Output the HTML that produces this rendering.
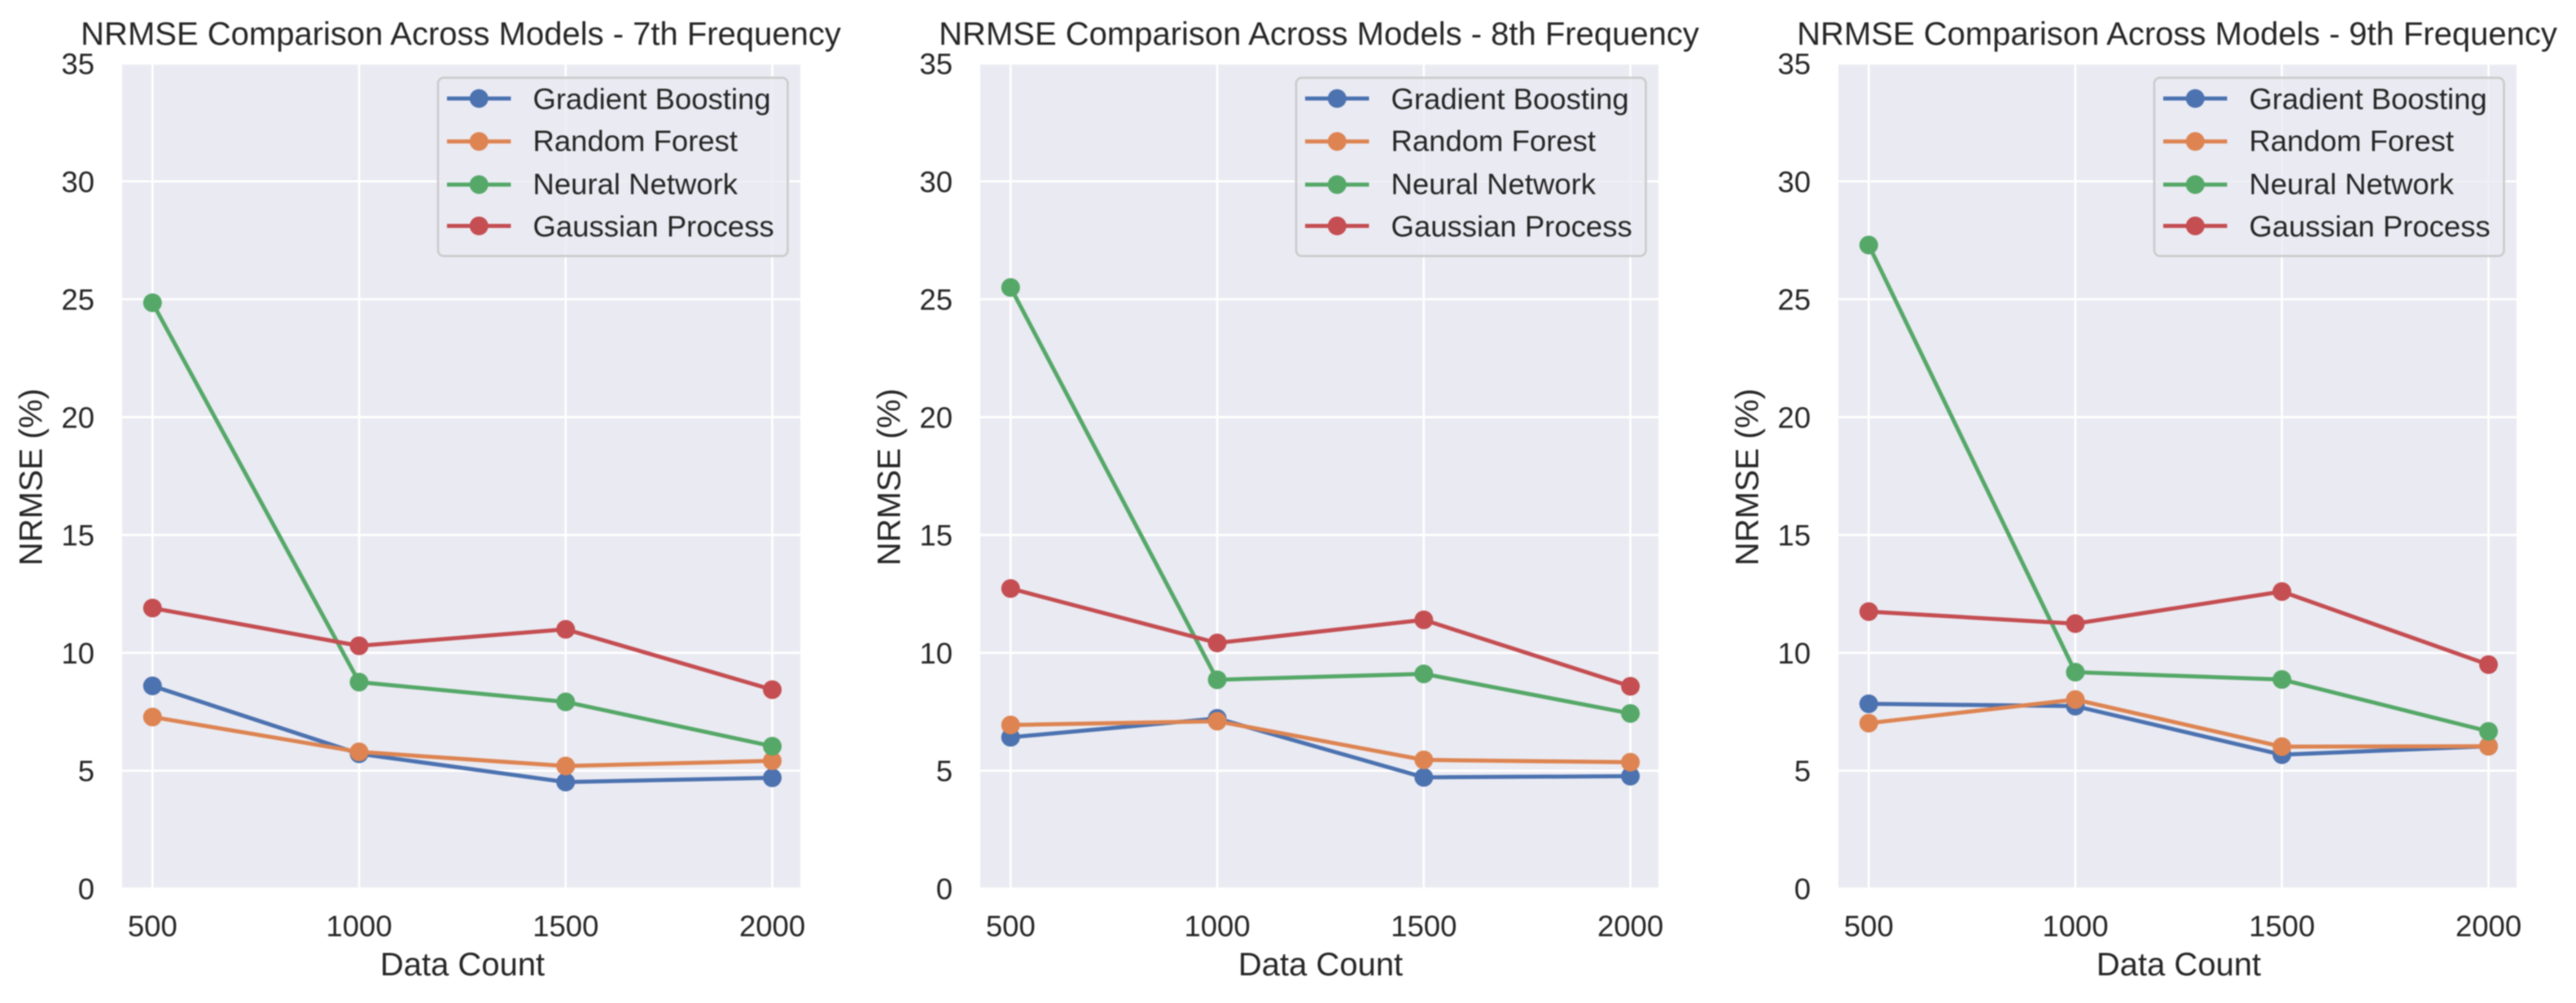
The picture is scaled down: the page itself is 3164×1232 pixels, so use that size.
<!DOCTYPE html>
<html lang="en">
<head>
<meta charset="utf-8">
<title>NRMSE Comparison Across Models</title>
<style>
html,body{margin:0;padding:0;background:#fff;width:3164px;height:1232px;overflow:hidden}
svg{display:block;filter:blur(0.7px)}
text{font-family:"Liberation Sans",Arial,sans-serif;fill:#262626}
.title,.axis-label{font-size:40px}
.tick,.legend-text{font-size:36.5px}
.legend-frame{fill:#EAEAF2;fill-opacity:.8;stroke:#cccccc;stroke-width:2.7}
.handle{stroke-width:5;fill:none}
</style>
</head>
<body>
<svg xmlns="http://www.w3.org/2000/svg" width="3164" height="1232" viewBox="0 0 3164 1232">
  <rect width="3164" height="1232" fill="#fff"/>

  <g id="panel-7" transform="translate(150,0)">
    <rect x="0" y="78" width="833" height="1013.5" fill="#EAEAF2"/>
    <g class="grid"></g>
    <g class="marks"></g>
    <g class="ticks"></g>
    <text class="title" x="416" y="55" text-anchor="middle">NRMSE Comparison Across Models - 7th Frequency</text>
    <text class="axis-label" x="418" y="1198" text-anchor="middle">Data Count</text>
    <text class="axis-label" transform="translate(-98.5,586) rotate(-90)" text-anchor="middle">NRMSE (%)</text>
    <g>
      <rect class="legend-frame" x="388" y="95.5" width="429.5" height="219" rx="7"/>
      <g><line class="handle" x1="399" x2="477.5" y1="121" y2="121" stroke="#4C72B0"/><circle cx="438.3" cy="121" r="11.5" fill="#4C72B0"/><text class="legend-text" x="504.5" y="134">Gradient Boosting</text></g>
      <g><line class="handle" x1="399" x2="477.5" y1="173.7" y2="173.7" stroke="#DD8452"/><circle cx="438.3" cy="173.7" r="11.5" fill="#DD8452"/><text class="legend-text" x="504.5" y="185.5">Random Forest</text></g>
      <g><line class="handle" x1="399" x2="477.5" y1="226.7" y2="226.7" stroke="#55A868"/><circle cx="438.3" cy="226.7" r="11.5" fill="#55A868"/><text class="legend-text" x="504.5" y="238.5">Neural Network</text></g>
      <g><line class="handle" x1="399" x2="477.5" y1="277.5" y2="277.5" stroke="#C44E52"/><circle cx="438.3" cy="277.5" r="11.5" fill="#C44E52"/><text class="legend-text" x="504.5" y="290.5">Gaussian Process</text></g>
    </g>
  </g>

  <g id="panel-8" transform="translate(1204,0)">
    <rect x="0" y="78" width="833" height="1013.5" fill="#EAEAF2"/>
    <g class="grid"></g>
    <g class="marks"></g>
    <g class="ticks"></g>
    <text class="title" x="416" y="55" text-anchor="middle">NRMSE Comparison Across Models - 8th Frequency</text>
    <text class="axis-label" x="418" y="1198" text-anchor="middle">Data Count</text>
    <text class="axis-label" transform="translate(-98.5,586) rotate(-90)" text-anchor="middle">NRMSE (%)</text>
    <g>
      <rect class="legend-frame" x="388" y="95.5" width="429.5" height="219" rx="7"/>
      <g><line class="handle" x1="399" x2="477.5" y1="121" y2="121" stroke="#4C72B0"/><circle cx="438.3" cy="121" r="11.5" fill="#4C72B0"/><text class="legend-text" x="504.5" y="134">Gradient Boosting</text></g>
      <g><line class="handle" x1="399" x2="477.5" y1="173.7" y2="173.7" stroke="#DD8452"/><circle cx="438.3" cy="173.7" r="11.5" fill="#DD8452"/><text class="legend-text" x="504.5" y="185.5">Random Forest</text></g>
      <g><line class="handle" x1="399" x2="477.5" y1="226.7" y2="226.7" stroke="#55A868"/><circle cx="438.3" cy="226.7" r="11.5" fill="#55A868"/><text class="legend-text" x="504.5" y="238.5">Neural Network</text></g>
      <g><line class="handle" x1="399" x2="477.5" y1="277.5" y2="277.5" stroke="#C44E52"/><circle cx="438.3" cy="277.5" r="11.5" fill="#C44E52"/><text class="legend-text" x="504.5" y="290.5">Gaussian Process</text></g>
    </g>
  </g>

  <g id="panel-9" transform="translate(2258,0)">
    <rect x="0" y="78" width="833" height="1013.5" fill="#EAEAF2"/>
    <g class="grid"></g>
    <g class="marks"></g>
    <g class="ticks"></g>
    <text class="title" x="416" y="55" text-anchor="middle">NRMSE Comparison Across Models - 9th Frequency</text>
    <text class="axis-label" x="418" y="1198" text-anchor="middle">Data Count</text>
    <text class="axis-label" transform="translate(-98.5,586) rotate(-90)" text-anchor="middle">NRMSE (%)</text>
    <g>
      <rect class="legend-frame" x="388" y="95.5" width="429.5" height="219" rx="7"/>
      <g><line class="handle" x1="399" x2="477.5" y1="121" y2="121" stroke="#4C72B0"/><circle cx="438.3" cy="121" r="11.5" fill="#4C72B0"/><text class="legend-text" x="504.5" y="134">Gradient Boosting</text></g>
      <g><line class="handle" x1="399" x2="477.5" y1="173.7" y2="173.7" stroke="#DD8452"/><circle cx="438.3" cy="173.7" r="11.5" fill="#DD8452"/><text class="legend-text" x="504.5" y="185.5">Random Forest</text></g>
      <g><line class="handle" x1="399" x2="477.5" y1="226.7" y2="226.7" stroke="#55A868"/><circle cx="438.3" cy="226.7" r="11.5" fill="#55A868"/><text class="legend-text" x="504.5" y="238.5">Neural Network</text></g>
      <g><line class="handle" x1="399" x2="477.5" y1="277.5" y2="277.5" stroke="#C44E52"/><circle cx="438.3" cy="277.5" r="11.5" fill="#C44E52"/><text class="legend-text" x="504.5" y="290.5">Gaussian Process</text></g>
    </g>
  </g>
</svg>

<script>
// Chart data
const dataCounts = [500, 1000, 1500, 2000];
const yTickValues = [0, 5, 10, 15, 20, 25, 30, 35];

const gradientBoosting7 = [8.6, 5.72, 4.52, 4.7];
const randomForest7 = [7.28, 5.8, 5.2, 5.42];
const neuralNetwork7 = [24.85, 8.76, 7.92, 6.04];
const gaussianProcess7 = [11.9, 10.3, 11.0, 8.44];

const gradientBoosting8 = [6.42, 7.22, 4.72, 4.77];
const randomForest8 = [6.94, 7.1, 5.46, 5.36];
const neuralNetwork8 = [25.5, 8.86, 9.11, 7.43];
const gaussianProcess8 = [12.73, 10.42, 11.4, 8.58];

const gradientBoosting9 = [7.84, 7.74, 5.68, 6.04];
const randomForest9 = [7.02, 8.02, 6.02, 6.04];
const neuralNetwork9 = [27.3, 9.18, 8.87, 6.67];
const gaussianProcess9 = [11.75, 11.24, 12.6, 9.5];

const seriesNames = ['gradient-boosting', 'random-forest', 'neural-network', 'gaussian-process'];
const seriesColors = ['#4C72B0', '#DD8452', '#55A868', '#C44E52'];

const NS = 'http://www.w3.org/2000/svg';
const xLo = 426.5, xHi = 2067.9, plotW = 833;
const yLo = 0, yHi = 35, plotTop = 78, plotBottom = 1091.5;
function xScale(v) { return (v - xLo) / (xHi - xLo) * plotW; }
function yScale(v) { return plotBottom - (v - yLo) / (yHi - yLo) * (plotBottom - plotTop); }
function make(tag, attrs) {
  const node = document.createElementNS(NS, tag);
  for (const k in attrs) node.setAttribute(k, attrs[k]);
  return node;
}

function drawPanel(id, allSeries) {
  const panel = document.getElementById(id);
  const grid = panel.querySelector('.grid');
  const ticks = panel.querySelector('.ticks');
  const marks = panel.querySelector('.marks');

  yTickValues.forEach(function (t) {
    const gl = make('line', { x1: 0, x2: plotW, y1: yScale(t), y2: yScale(t), stroke: '#fff', 'stroke-width': 2.7 });
    
    
    grid.appendChild(gl);
    const lab = make('text', { class: 'tick', x: -34, y: yScale(t) + 13, 'text-anchor': 'end' });
    
    
    lab.textContent = String(t);
    ticks.appendChild(lab);
  });

  dataCounts.forEach(function (c) {
    const gl = make('line', { x1: xScale(c), x2: xScale(c), y1: plotTop, y2: plotBottom, stroke: '#fff', 'stroke-width': 2.7 });
    
    
    grid.appendChild(gl);
    const lab = make('text', { class: 'tick', x: xScale(c), y: 1150, 'text-anchor': 'middle' });
    
    
    lab.textContent = String(c);
    ticks.appendChild(lab);
  });

  allSeries.forEach(function (values, s) {
    const pts = values.map(function (v, i) { return xScale(dataCounts[i]) + ',' + yScale(v); }).join(' ');
    const line = make('polyline', { points: pts, fill: 'none', stroke: seriesColors[s], 'stroke-width': 5, 'stroke-linejoin': 'round' });
    
    
    marks.appendChild(line);
    values.forEach(function (v, i) {
      const pt = make('circle', { cx: xScale(dataCounts[i]), cy: yScale(v), r: 11.5, fill: seriesColors[s] });
      
      
      marks.appendChild(pt);
    });
  });
}

drawPanel('panel-7', [gradientBoosting7, randomForest7, neuralNetwork7, gaussianProcess7]);
drawPanel('panel-8', [gradientBoosting8, randomForest8, neuralNetwork8, gaussianProcess8]);
drawPanel('panel-9', [gradientBoosting9, randomForest9, neuralNetwork9, gaussianProcess9]);
</script>
</body>
</html>
